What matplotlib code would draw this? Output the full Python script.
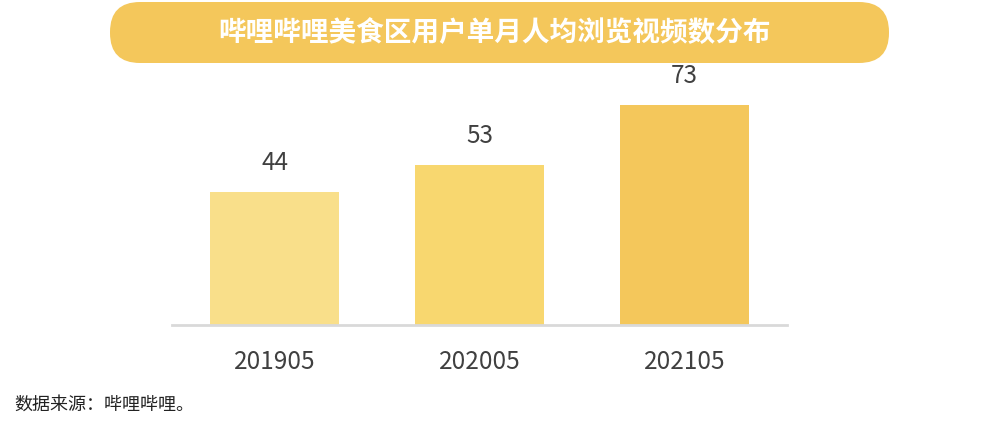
import matplotlib.pyplot as plt
from matplotlib.patches import FancyBboxPatch

plt.rcParams['font.family'] = ['Noto Sans CJK SC', 'DejaVu Sans']

months = ['201905', '202005', '202105']
views = [44, 53, 73]
colors = ['#F9DF8A', '#F8D76F', '#F4C75B']
title = '哔哩哔哩美食区用户单月人均浏览视频数分布'
source = '数据来源：哔哩哔哩。'

fig = plt.figure(figsize=(9.96, 4.30), dpi=100)

# background axes in pixel units for the title pill
bg = fig.add_axes([0, 0, 1, 1])
bg.set_xlim(0, 996)
bg.set_ylim(430, 0)
bg.axis('off')
pill = FancyBboxPatch((110, 2), 779, 61, boxstyle='round,pad=0,rounding_size=30',
                      facecolor='#F4C75B', edgecolor='none')
bg.add_patch(pill)
bg.text(494, 33, title, color='white', fontsize=19.9, fontweight='bold',
        ha='center', va='center')
bg.text(14, 405, source, color='#222222', fontsize=13, ha='left', va='center')

ax = fig.add_axes([172 / 996, 105 / 430, 615 / 996, 255 / 430])
x = range(len(months))
bars = ax.bar(x, views, width=0.625, color=colors)
for xi, v in zip(x, views):
    ax.annotate(str(v), (xi, v), xytext=(0, 21), textcoords='offset points',
                ha='center', va='center', fontsize=17.5, color='#404040')

ax.set_xlim(-0.5, 2.5)
ax.set_ylim(0, 84.6)
ax.set_xticks(list(x))
ax.set_xticklabels(months, fontsize=17.5, color='#404040')
ax.tick_params(axis='x', length=0, pad=17)
ax.set_yticks([])
for s in ['top', 'right', 'left']:
    ax.spines[s].set_visible(False)
ax.spines['bottom'].set_color('#D9D9D9')
ax.spines['bottom'].set_linewidth(2)
ax.patch.set_alpha(0)

fig.savefig('out.png', dpi=100)
